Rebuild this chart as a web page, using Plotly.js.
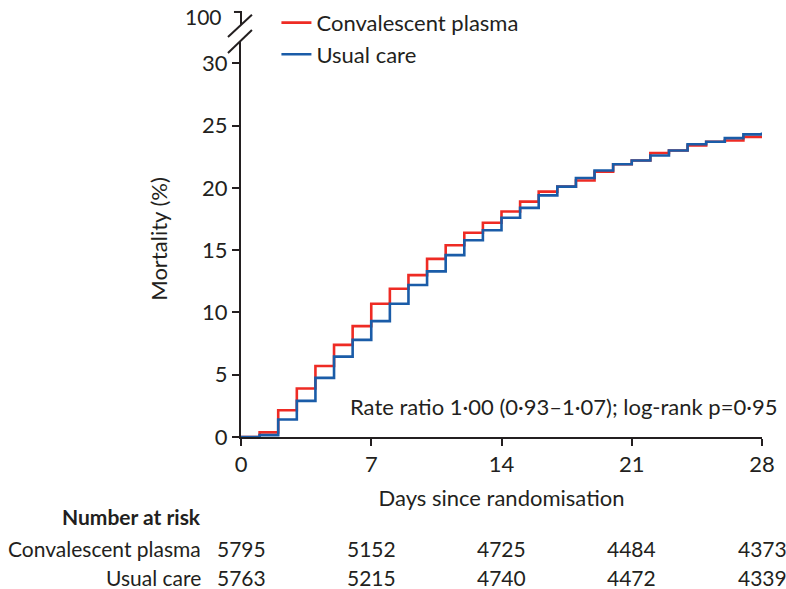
<!DOCTYPE html>
<html>
<head>
<meta charset="utf-8">
<script src="https://cdn.plot.ly/plotly-3.0.1.min.js"></script>
<style>
  body { margin: 0; background: #fff; }
  #chart { width: 786px; height: 589px; }
</style>
</head>
<body>
<div id="chart"></div>
<script>
var days = [0, 1, 2, 3, 4, 5, 6, 7, 8, 9, 10, 11, 12, 13, 14, 15, 16, 17, 18, 19, 20, 21, 22, 23, 24, 25, 26, 27, 28];

// cumulative mortality (%)
var plasma = [0, 0.37, 2.15, 3.9, 5.7, 7.4, 8.9, 10.7, 11.9, 13.0, 14.3, 15.4, 16.4, 17.2, 18.1,
              18.9, 19.7, 20.1, 20.6, 21.3, 21.9, 22.2, 22.8, 23.0, 23.4, 23.7, 23.8, 24.1, 24.1];
var usual  = [0, 0.15, 1.4, 2.9, 4.75, 6.45, 7.8, 9.3, 10.7, 12.2, 13.3, 14.6, 15.8, 16.6, 17.6,
              18.4, 19.4, 20.1, 20.8, 21.4, 21.9, 22.2, 22.6, 23.0, 23.5, 23.7, 24.0, 24.3, 24.45];

var riskDays = [0, 7, 14, 21, 28];
var plasmaRisk = [5795, 5152, 4725, 4484, 4373];
var usualRisk  = [5763, 5215, 4740, 4472, 4339];

var ink = '#231f20';
var font = 'Lato, "Open Sans", sans-serif';
var fs = 22;
var ts = 21;  // risk table text

var data = [{
  x: days,
  y: plasma,
  type: 'scatter',
  mode: 'lines',
  name: 'Convalescent plasma',
  line: {color: '#ee2b24', width: 2.6, shape: 'hv'}
}, {
  x: days,
  y: usual,
  type: 'scatter',
  mode: 'lines',
  name: 'Usual care',
  line: {color: '#1a5ca8', width: 2.6, shape: 'hv'}
}];

var annotations = [{
  text: 'Rate ratio 1·00 (0·93–1·07); log-rank p=0·95',
  xref: 'paper', yref: 'paper', x: 0.205, y: 0.071,
  xanchor: 'left', yanchor: 'middle', showarrow: false,
  font: {size: fs, color: ink, family: font}
}, {
  // top piece of the broken y axis
  text: '100',
  xref: 'paper', yref: 'paper', x: -0.033, y: 1.0046,
  xanchor: 'right', yanchor: 'top', showarrow: false,
  font: {size: 21, color: ink, family: font}
}, {
  text: '<b>Number at risk</b>',
  xref: 'paper', yref: 'paper', x: -0.073, y: -0.184,
  xanchor: 'right', yanchor: 'middle', showarrow: false,
  font: {size: ts, color: ink, family: font}
}, {
  text: 'Convalescent plasma',
  xref: 'paper', yref: 'paper', x: -0.073, y: -0.2575,
  xanchor: 'right', yanchor: 'middle', showarrow: false,
  font: {size: ts, color: ink, family: font}
}, {
  text: 'Usual care',
  xref: 'paper', yref: 'paper', x: -0.073, y: -0.324,
  xanchor: 'right', yanchor: 'middle', showarrow: false,
  font: {size: ts, color: ink, family: font}
}];

riskDays.forEach(function (d, i) {
  annotations.push({
    text: String(plasmaRisk[i]), xref: 'x', yref: 'paper', x: d, y: -0.2575,
    xanchor: 'center', yanchor: 'middle', showarrow: false,
    font: {size: ts, color: ink, family: font}
  });
  annotations.push({
    text: String(usualRisk[i]), xref: 'x', yref: 'paper', x: d, y: -0.324,
    xanchor: 'center', yanchor: 'middle', showarrow: false,
    font: {size: ts, color: ink, family: font}
  });
});

var layout = {
  width: 786,
  height: 589,
  margin: {l: 241, r: 24, t: 2, b: 152},
  paper_bgcolor: '#fff',
  plot_bgcolor: '#fff',
  font: {family: font, size: fs, color: ink},
  showlegend: true,
  legend: {
    x: 0.068, y: 1.005, xanchor: 'left', yanchor: 'top',
    bgcolor: 'rgba(0,0,0,0)', font: {size: fs, color: ink}
  },
  xaxis: {
    range: [0, 28],
    tickvals: riskDays,
    showgrid: false, zeroline: false,
    showline: true, linecolor: ink, linewidth: 2,
    ticks: 'outside', ticklen: 7, tickwidth: 2, tickcolor: ink,
    tickfont: {size: fs},
    title: {text: 'Days since randomisation', font: {size: fs}, standoff: 14}
  },
  yaxis: {
    domain: [0, 0.915],
    range: [0, 31.81],
    tickvals: [0, 5, 10, 15, 20, 25, 30],
    showgrid: false, zeroline: false,
    showline: true, linecolor: ink, linewidth: 2,
    ticks: 'outside', ticklen: 7, tickwidth: 2, tickcolor: ink,
    tickfont: {size: fs},
    title: {text: 'Mortality (%)', font: {size: fs}, standoff: 28}
  },
  shapes: [
    // axis break: short top segment with its 100 tick, then two slashes
    {type: 'line', xref: 'paper', yref: 'paper', x0: 0, y0: 0.9517, x1: 0, y1: 0.9838,
     line: {color: ink, width: 2}},
    {type: 'line', xref: 'paper', yref: 'paper', x0: -0.0135, y0: 0.9816, x1: 0.001, y1: 0.9816,
     line: {color: ink, width: 2}},
    {type: 'line', xref: 'paper', yref: 'paper', x0: -0.025, y0: 0.924, x1: 0.021, y1: 0.975,
     line: {color: ink, width: 2}},
    {type: 'line', xref: 'paper', yref: 'paper', x0: -0.025, y0: 0.887, x1: 0.021, y1: 0.940,
     line: {color: ink, width: 2}}
  ],
  annotations: annotations
};

Plotly.newPlot('chart', data, layout, {displayModeBar: false, staticPlot: true});
</script>
</body>
</html>
